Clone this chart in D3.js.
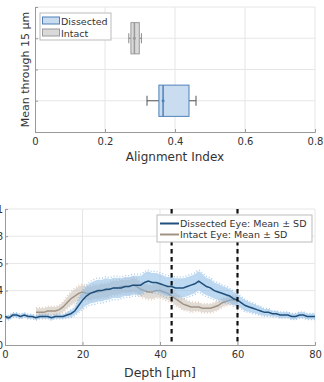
<!DOCTYPE html>
<html><head><meta charset="utf-8">
<script src="https://cdn.jsdelivr.net/npm/d3@7"></script>
<style>body{margin:0;background:#fff}svg{display:block}text{font-family:"DejaVu Sans",sans-serif;fill:#333}</style>
</head><body><svg id="c" width="324" height="382"></svg>
<script>
// ---- top panel data ----
const boxCategories = ["Dissected", "Intact"];
const boxPositions = [1, 2];
// [whiskerLow, q1, median, q3, whiskerHigh]
const boxStats = [[0.32, 0.354, 0.366, 0.44, 0.46], [0.268, 0.274, 0.284, 0.298, 0.304]];
const topXTicks = [0, 0.2, 0.4, 0.6, 0.8];
const topYTicks = [0.5, 1, 1.5, 2, 2.5];

// ---- bottom panel data ----
const seriesNames = ["Dissected Eye: Mean \u00b1 SD", "Intact Eye: Mean \u00b1 SD"];
const dissDepth = d3.range(0, 81);
const dissMean = [0.21,0.20,0.22,0.22,0.21,0.22,0.21,0.21,0.20,0.21,0.21,0.21,0.20,0.21,0.21,0.21,0.22,0.23,0.25,0.29,0.33,0.36,0.38,0.39,0.40,0.40,0.41,0.41,0.42,0.42,0.42,0.43,0.43,0.44,0.44,0.44,0.46,0.47,0.46,0.46,0.45,0.44,0.43,0.43,0.42,0.42,0.42,0.43,0.44,0.45,0.47,0.45,0.43,0.42,0.40,0.39,0.38,0.37,0.36,0.34,0.33,0.31,0.29,0.28,0.27,0.26,0.25,0.24,0.24,0.23,0.23,0.22,0.22,0.22,0.21,0.21,0.22,0.22,0.21,0.21,0.21];
const dissSD = [0.015,0.015,0.015,0.015,0.015,0.015,0.015,0.015,0.015,0.015,0.015,0.015,0.015,0.015,0.015,0.015,0.02,0.025,0.03,0.045,0.06,0.07,0.075,0.08,0.08,0.08,0.08,0.075,0.075,0.075,0.07,0.07,0.07,0.07,0.07,0.07,0.07,0.07,0.07,0.07,0.07,0.07,0.07,0.07,0.07,0.07,0.07,0.07,0.07,0.07,0.07,0.07,0.065,0.065,0.06,0.06,0.055,0.055,0.05,0.05,0.045,0.04,0.04,0.035,0.035,0.03,0.03,0.025,0.025,0.02,0.02,0.02,0.02,0.02,0.02,0.02,0.02,0.02,0.02,0.02,0.02];
const intDepth = d3.range(8, 61);
const intMean = [0.24,0.24,0.24,0.25,0.25,0.25,0.26,0.28,0.31,0.34,0.36,0.38,0.39,0.38,0.38,0.39,0.39,0.40,0.40,0.41,0.42,0.42,0.43,0.43,0.43,0.44,0.43,0.41,0.40,0.39,0.39,0.40,0.40,0.39,0.38,0.36,0.34,0.32,0.30,0.29,0.28,0.28,0.28,0.27,0.27,0.27,0.28,0.29,0.31,0.32,0.33,0.33,0.33];
const intSD = [0.03,0.03,0.03,0.03,0.03,0.03,0.03,0.035,0.04,0.045,0.05,0.05,0.05,0.05,0.05,0.05,0.05,0.05,0.05,0.05,0.05,0.05,0.05,0.05,0.05,0.05,0.05,0.05,0.05,0.05,0.05,0.05,0.05,0.05,0.05,0.045,0.045,0.04,0.04,0.035,0.035,0.03,0.03,0.03,0.03,0.03,0.03,0.03,0.03,0.03,0.03,0.03,0.03];
const markerDepths = [43, 60];
const botXTicks = [0, 20, 40, 60, 80];
const botYTicks = [0, 0.2, 0.4, 0.6, 0.8, 1];
const botYTickLabels = ["0", "0.2", "0.4", "0.6", "0.8", "1"];

const svg = d3.select("#c");
const grid = "#e6e6e6", axisCol = "#9a9a9a";

// ================= TOP PANEL =================
const tx = d3.scaleLinear().domain([0, 0.8]).range([35, 315]);
const ty = d3.scaleLinear().domain([0.5, 2.5]).range([132, 7]);
const topG = svg.append("g");
topG.selectAll(".vg").data(topXTicks.slice(1)).join("line")
  .attr("x1", d => tx(d)).attr("x2", d => tx(d)).attr("y1", ty(0.5)).attr("y2", ty(2.5))
  .attr("stroke", grid);
topG.selectAll(".hg").data(topYTicks.slice(1)).join("line")
  .attr("x1", tx(0)).attr("x2", tx(0.8)).attr("y1", d => ty(d)).attr("y2", d => ty(d))
  .attr("stroke", grid);
const txAxis = topG.append("g").attr("transform", `translate(0,${ty(0.5)})`)
  .call(d3.axisBottom(tx).tickValues(topXTicks).tickSize(-3).tickPadding(6).tickFormat(d3.format("")));
const tyAxis = topG.append("g").attr("transform", `translate(${tx(0)},0)`)
  .call(d3.axisLeft(ty).tickValues(topYTicks).tickSize(-3).tickFormat(""));
[txAxis, tyAxis].forEach(a => { a.select(".domain").attr("stroke", axisCol); a.selectAll(".tick line").attr("stroke", axisCol); a.selectAll("text").style("font-family", "DejaVu Sans").style("font-size", "10px").attr("fill", "#333"); });
topG.append("text").attr("x", 175).attr("y", 161).attr("text-anchor", "middle").style("font-size", "12px").text("Alignment Index");
topG.append("text").attr("transform", `translate(29,${ty(1.5)}) rotate(-90)`).attr("text-anchor", "middle").style("font-size", "11px").text("Mean through 15 \u03bcm");

const boxFill = ["#c9dcf0", "#d9d9d9"], boxEdge = ["#4f81b8", "#9a9a9a"], whiskCol = ["#555", "#888"];
boxStats.forEach((s, i) => {
  const yc = ty(boxPositions[i]), h = ty(0) - ty(0.5);
  const g = topG.append("g");
  g.append("line").attr("x1", tx(s[0])).attr("x2", tx(s[1])).attr("y1", yc).attr("y2", yc).attr("stroke", whiskCol[i]);
  g.append("line").attr("x1", tx(s[3])).attr("x2", tx(s[4])).attr("y1", yc).attr("y2", yc).attr("stroke", whiskCol[i]);
  [s[0], s[4]].forEach(v => g.append("line").attr("x1", tx(v)).attr("x2", tx(v)).attr("y1", yc - 5).attr("y2", yc + 5).attr("stroke", whiskCol[i]));
  g.append("rect").attr("x", tx(s[1])).attr("y", yc - h / 2).attr("width", tx(s[3]) - tx(s[1])).attr("height", h)
    .attr("fill", boxFill[i]).attr("stroke", boxEdge[i]);
  g.append("line").attr("x1", tx(s[2])).attr("x2", tx(s[2])).attr("y1", yc - h / 2).attr("y2", yc + h / 2).attr("stroke", boxEdge[i]).attr("stroke-width", 1.5);
  g.append("circle").attr("cx", tx(s[2])).attr("cy", yc).attr("r", 1.5).attr("fill", boxEdge[i]);
});
// top legend
const tl = topG.append("g").attr("transform", "translate(40,13)");
tl.append("rect").attr("width", 71).attr("height", 27).attr("fill", "#fff").attr("stroke", "#bbb");
boxCategories.forEach((c, i) => {
  tl.append("rect").attr("x", 2.5).attr("y", 4 + i * 12).attr("width", 17).attr("height", 7).attr("fill", boxFill[i]).attr("stroke", boxEdge[i]);
  tl.append("text").attr("x", 21).attr("y", 11.5 + i * 12).style("font-size", "9.5px").text(c);
});

// ================= BOTTOM PANEL =================
const bx = d3.scaleLinear().domain([0, 80]).range([5, 315]);
const by = d3.scaleLinear().domain([0, 1]).range([345, 209]);
const bot = svg.append("g");
bot.selectAll(".vg").data(botXTicks.slice(1)).join("line")
  .attr("x1", d => bx(d)).attr("x2", d => bx(d)).attr("y1", by(0)).attr("y2", by(1)).attr("stroke", grid);
bot.selectAll(".hg").data(botYTicks.slice(1)).join("line")
  .attr("x1", bx(0)).attr("x2", bx(80)).attr("y1", d => by(d)).attr("y2", d => by(d)).attr("stroke", grid);
const bxAxis = bot.append("g").attr("transform", `translate(0,${by(0)})`)
  .call(d3.axisBottom(bx).tickValues(botXTicks).tickSize(-3).tickPadding(6));
const byAxis = bot.append("g").attr("transform", `translate(${bx(0)},0)`)
  .call(d3.axisLeft(by).tickValues(botYTicks).tickSize(-3).tickPadding(2).tickFormat((d, i) => botYTickLabels[i]));
[bxAxis, byAxis].forEach(a => { a.select(".domain").attr("stroke", axisCol); a.selectAll(".tick line").attr("stroke", axisCol); a.selectAll("text").style("font-family", "DejaVu Sans").style("font-size", "10px").attr("fill", "#333"); });
bot.append("text").attr("x", 160).attr("y", 377).attr("text-anchor", "middle").style("font-size", "12.5px").text("Depth [\u03bcm]");

const series = [
  {x: intDepth, m: intMean, s: intSD, band: "#c6bdb3", dot: "#dba985", line: "#a29282"},
  {x: dissDepth, m: dissMean, s: dissSD, band: "#86b8e6", dot: "#6aa6dc", line: "#1f4f7b"}
];
series.forEach(S => {
  const pts = S.x.map((d, i) => ({d, m: S.m[i], s: S.s[i]}));
  const area = d3.area().x(p => bx(p.d)).y0(p => by(p.m - p.s)).y1(p => by(p.m + p.s)).curve(d3.curveMonotoneX);
  bot.append("path").datum(pts).attr("d", area).attr("fill", S.band).attr("opacity", 0.55);
  ["up", "lo"].forEach(k => {
    bot.append("path").datum(pts)
      .attr("d", d3.line().x(p => bx(p.d)).y(p => by(k === "up" ? p.m + p.s * 1.15 : p.m - p.s * 1.15)).curve(d3.curveMonotoneX))
      .attr("fill", "none").attr("stroke", S.dot).attr("stroke-width", 1.3).attr("stroke-dasharray", "1,2").attr("opacity", 0.6);
  });
  bot.append("path").datum(pts)
    .attr("d", d3.line().x(p => bx(p.d)).y(p => by(p.m)).curve(d3.curveLinear))
    .attr("fill", "none").attr("stroke", S.line).attr("stroke-width", 1.5);
});
bot.selectAll(".mk").data(markerDepths).join("line")
  .attr("x1", d => bx(d)).attr("x2", d => bx(d)).attr("y1", by(1)).attr("y2", by(0))
  .attr("stroke", "#111").attr("stroke-width", 2.2).attr("stroke-dasharray", "4.5,3.5");
// bottom legend
const bl = bot.append("g").attr("transform", "translate(157,215)");
bl.append("rect").attr("width", 155).attr("height", 27).attr("fill", "#fff").attr("stroke", "#bbb");
[{c: "#1f4f7b"}, {c: "#a29282"}].forEach((o, i) => {
  bl.append("line").attr("x1", 3).attr("x2", 22).attr("y1", 8.5 + i * 11).attr("y2", 8.5 + i * 11).attr("stroke", o.c).attr("stroke-width", 2);
  bl.append("text").attr("x", 23).attr("y", 12 + i * 11).style("font-size", "9.5px").text(seriesNames[i]);
});
</script></body></html>
